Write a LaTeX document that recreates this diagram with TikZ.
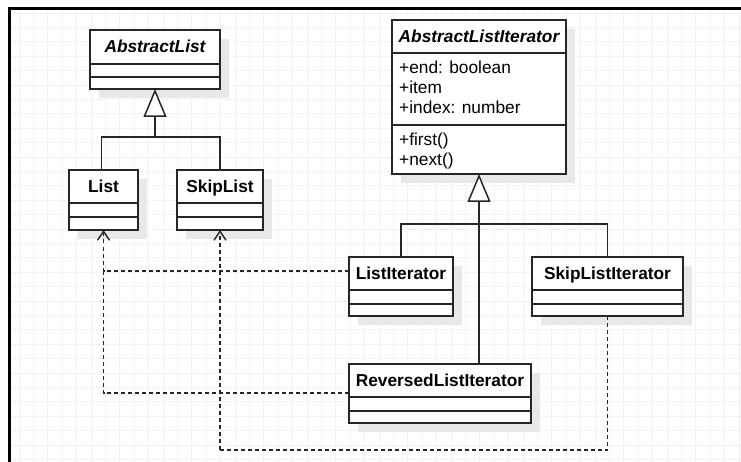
\documentclass[tikz,border=0pt]{standalone}
\usepackage{fontspec}
\setmainfont{Liberation Sans}
\usetikzlibrary{arrows.meta,shadows}
\begin{document}
\begin{tikzpicture}[x=1pt,y=-1pt,
  gridline/.style={draw=black!5, line width=0.7pt},
  cls/.style={draw=black!85, line width=1.5pt, fill=white, inner sep=0pt, outer sep=0pt,
    anchor=north west,
    drop shadow={shadow xshift=9pt, shadow yshift=-9pt, fill=black!9, opacity=1}},
  ttl/.style={anchor=base, inner sep=0pt, font=\fontsize{17.3pt}{20pt}\selectfont\bfseries},
  attr/.style={anchor=base west, inner sep=0pt, font=\fontsize{17.3pt}{20pt}\selectfont},
  divider/.style={draw=black!85, line width=1.5pt},
  solidline/.style={draw=black!85, line width=1.5pt},
  inh/.style={solidline, -{Triangle[length=28pt,width=23pt,fill=white,line width=1.5pt]}},
  dep/.style={draw=black!85, line width=1.4pt, dash pattern=on 4pt off 3pt,
    -{Straight Barb[length=9pt,width=12pt,line width=1.4pt]}},
  depnoarrow/.style={draw=black!85, line width=1.4pt, dash pattern=on 4pt off 3pt}
]
\useasboundingbox (0,0) rectangle (741,462);
\fill[white] (0,0) rectangle (741,462);
% grid
\begin{scope}
\clip (10,9.5) rectangle (741,462);
\foreach \i in {0,...,50} \draw[gridline] ({19+14.4*\i},9) -- ({19+14.4*\i},462);
\foreach \j in {0,...,32} \draw[gridline] (10,{13+14.4*\j}) -- (741,{13+14.4*\j});
\end{scope}
% frame
\draw[line width=2.5pt, black] (9.5,462) -- (9.5,8.5) -- (741,8.5);

% AbstractList
\node[cls, minimum width=130pt, minimum height=59pt] (AL) at (90,30) {};
\draw[divider] ([yshift=-34pt]AL.north west) -- ([yshift=-34pt]AL.north east);
\draw[divider] ([yshift=-47pt]AL.north west) -- ([yshift=-47pt]AL.north east);
\node[ttl] (AL-t) at ([yshift=-22.9pt]AL.north) {\itshape AbstractList};

% List
\node[cls, minimum width=69pt, minimum height=60pt] (List) at (69,170) {};
\draw[divider] ([yshift=-33pt]List.north west) -- ([yshift=-33pt]List.north east);
\draw[divider] ([yshift=-47pt]List.north west) -- ([yshift=-47pt]List.north east);
\node[ttl] (List-t) at ([yshift=-22.7pt]List.north) {List};

% SkipList
\node[cls, minimum width=86pt, minimum height=60pt] (SkipList) at (177,170) {};
\draw[divider] ([yshift=-33pt]SkipList.north west) -- ([yshift=-33pt]SkipList.north east);
\draw[divider] ([yshift=-47pt]SkipList.north west) -- ([yshift=-47pt]SkipList.north east);
\node[ttl] (SkipList-t) at ([yshift=-22.7pt]SkipList.north) {SkipList};

% AbstractListIterator
\node[cls, minimum width=174pt, minimum height=154pt] (ALI) at (392,20) {};
\draw[divider] ([yshift=-33pt]ALI.north west) -- ([yshift=-33pt]ALI.north east);
\draw[divider] ([yshift=-105pt]ALI.north west) -- ([yshift=-105pt]ALI.north east);
\node[ttl] (ALI-t) at ([yshift=-22.7pt]ALI.north) {\itshape AbstractListIterator};
\node[attr] (ALI-a1) at (399,74) {+end: boolean};
\node[attr] (ALI-a2) at (399,94) {+item};
\node[attr] (ALI-a3) at (399,114) {+index: number};
\node[attr] (ALI-m1) at (399,145.5) {+first()};
\node[attr] (ALI-m2) at (399,165.5) {+next()};

% ListIterator
\node[cls, minimum width=104pt, minimum height=59pt] (LI) at (349,257) {};
\draw[divider] ([yshift=-33pt]LI.north west) -- ([yshift=-33pt]LI.north east);
\draw[divider] ([yshift=-47pt]LI.north west) -- ([yshift=-47pt]LI.north east);
\node[ttl] (LI-t) at ([yshift=-22.7pt]LI.north) {ListIterator};

% SkipListIterator
\node[cls, minimum width=151pt, minimum height=59pt] (SLI) at (532,257) {};
\draw[divider] ([yshift=-33pt]SLI.north west) -- ([yshift=-33pt]SLI.north east);
\draw[divider] ([yshift=-47pt]SLI.north west) -- ([yshift=-47pt]SLI.north east);
\node[ttl] (SLI-t) at ([yshift=-22.7pt]SLI.north) {SkipListIterator};

% ReversedListIterator
\node[cls, minimum width=182pt, minimum height=59pt] (RLI) at (349,364) {};
\draw[divider] ([yshift=-33pt]RLI.north west) -- ([yshift=-33pt]RLI.north east);
\draw[divider] ([yshift=-47pt]RLI.north west) -- ([yshift=-47pt]RLI.north east);
\node[ttl] (RLI-t) at ([yshift=-22.7pt]RLI.north) {ReversedListIterator};

% inheritance: List, SkipList -> AbstractList
\coordinate (j1) at (155,137);
\draw[solidline] ([xshift=-2pt]List.north) |- (SkipList.north |- j1) -- (SkipList.north);
\draw[inh] (j1) -- (AL.south);

% inheritance: iterators -> AbstractListIterator
\coordinate (j2) at (479,224);
\draw[solidline] (LI.north) |- (SLI.north |- j2) -- (SLI.north);
\draw[inh] (RLI.north -| ALI.south) -- (ALI.south);

% dependencies
\draw[depnoarrow] (RLI.west |- 0,393) -| (List.south |- 0,271);
\draw[dep] (LI.west |- 0,271) -| (List.south);
\draw[depnoarrow] (SLI.south) -- (SLI.south |- 0,450) -- (SkipList.south |- 0,450);
\draw[dep] (SkipList.south |- 0,450) -- (SkipList.south);
\end{tikzpicture}
\end{document}
